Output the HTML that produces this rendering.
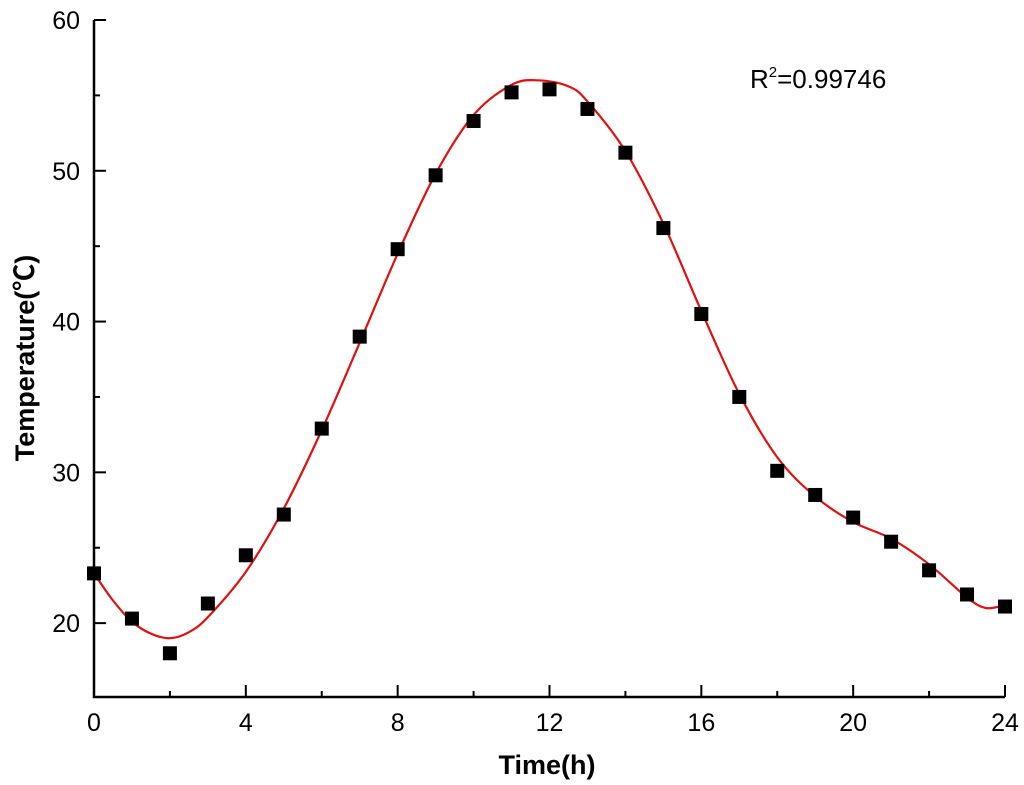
<!DOCTYPE html>
<html><head><meta charset="utf-8"><style>
body{margin:0;background:#fff}
svg{display:block;font-family:"Liberation Sans","Noto Sans CJK SC",sans-serif}
</style></head><body>
<svg id="chart" width="1024" height="785">
<g id="axes"></g>
<path id="fit" fill="none" stroke="#e01010" stroke-width="2.2"/>
<g id="pts"></g>
<text x="750" y="88" font-size="26">R<tspan font-size="15" dy="-11">2</tspan><tspan dy="11">=0.99746</tspan></text>
<text x="547" y="774" font-size="27" font-weight="bold" text-anchor="middle">Time(h)</text>
<text transform="translate(34,358) rotate(-90)" font-size="27" font-weight="bold" text-anchor="middle">Temperature(℃)</text>
</svg>
<script>
const hours=[0,1,2,3,4,5,6,7,8,9,10,11,12,13,14,15,16,17,18,19,20,21,22,23,24];
const temps=[23.3,20.3,18.0,21.3,24.5,27.2,32.9,39.0,44.8,49.7,53.3,55.2,55.4,54.1,51.2,46.2,40.5,35.0,30.1,28.5,27.0,25.4,23.5,21.9,21.1];
const fitX=[0,0.5,1,1.5,2,2.5,3,4,5,6,7,8,9,10,11,11.7,12.5,13,14,15,16,17,18,19,20,21,22,23,23.5,24];
const fitY=[23.3,21.5,20.1,19.3,19.0,19.4,20.4,23.4,27.6,32.8,38.6,44.5,49.8,53.7,55.7,56.0,55.6,54.6,51.3,46.5,40.7,35.2,31.0,28.4,26.7,25.6,23.9,21.7,21.0,21.2];
const xTicks=[0,4,8,12,16,20,24];
const yTicks=[20,30,40,50,60];
const X0=94,X1=1005,Y0=697,Y1=20,xmin=0,xmax=24,ymin=15.1,ymax=60;
const sx=v=>X0+(v-xmin)/(xmax-xmin)*(X1-X0);
const sy=v=>Y0-(v-ymin)/(ymax-ymin)*(Y0-Y1);
const NS='http://www.w3.org/2000/svg';
const axes=document.getElementById('axes');
function mk(tag,attrs,parent){const e=document.createElementNS(NS,tag);for(const k in attrs)e.setAttribute(k,attrs[k]);parent.appendChild(e);return e;}
let l=mk('path',{d:`M${X0},${Y1}V${Y0}H${X1}`,fill:'none',stroke:'#000','stroke-width':2.5},axes);


for(let v=0;v<=24;v+=2){const maj=v%4===0;const t=mk('line',{x1:sx(v),x2:sx(v),y1:Y0,y2:Y0-(maj?12:6),stroke:'#000','stroke-width':2},axes);

}
xTicks.forEach(v=>{const t=mk('text',{x:sx(v),y:731,'font-size':25,'text-anchor':'middle'},axes);t.textContent=v;

});
for(let v=20;v<=60;v+=5){const maj=v%10===0;const t=mk('line',{x1:X0,x2:X0+(maj?12:6),y1:sy(v),y2:sy(v),stroke:'#000','stroke-width':2},axes);

}
yTicks.forEach(v=>{const t=mk('text',{x:80,y:sy(v)+9,'font-size':25,'text-anchor':'end'},axes);t.textContent=v;

});
const P=fitX.map((x,i)=>[sx(x),sy(fitY[i])]);
let d=`M${P[0][0]},${P[0][1]}`;
for(let i=0;i<P.length-1;i++){const p0=P[i-1]||P[i],p1=P[i],p2=P[i+1],p3=P[i+2]||P[i+1];
d+=`C${p1[0]+(p2[0]-p0[0])/6},${p1[1]+(p2[1]-p0[1])/6} ${p2[0]-(p3[0]-p1[0])/6},${p2[1]-(p3[1]-p1[1])/6} ${p2[0]},${p2[1]}`;}
document.getElementById('fit').setAttribute('d',d);
const pts=document.getElementById('pts');
hours.forEach((h,i)=>{const r=mk('rect',{x:sx(h)-7,y:sy(temps[i])-7,width:14,height:14,fill:'#000'},pts);

});
</script>
</body></html>
